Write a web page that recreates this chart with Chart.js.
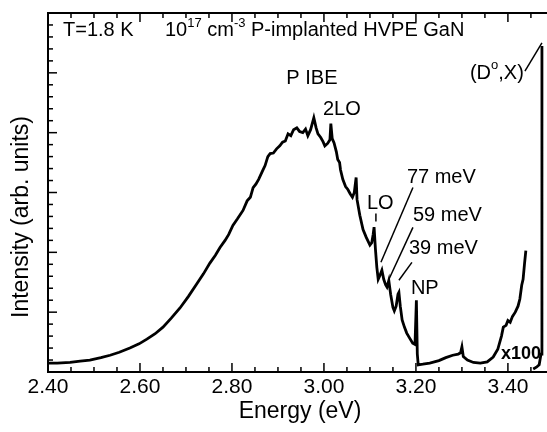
<!DOCTYPE html>
<html>
<head>
<meta charset="utf-8">
<script src="https://cdn.jsdelivr.net/npm/chart.js@4.4.1/dist/chart.umd.min.js"></script>
<style>
  html, body { margin: 0; padding: 0; background: #fff; }
  canvas { display: block; }
</style>
</head>
<body>
<canvas id="pl" width="547" height="432"></canvas>
<script>
// PL spectrum; the part above 3.20 eV is the x100 trace as plotted
const energy = [
  2.400, 2.420, 2.448, 2.470, 2.491, 2.515, 2.535, 2.555, 2.578, 2.598,
  2.615, 2.633, 2.650, 2.668, 2.687, 2.705, 2.724, 2.738, 2.752, 2.764,
  2.774, 2.785, 2.793, 2.802, 2.812, 2.824, 2.833, 2.840, 2.846, 2.852,
  2.858, 2.867, 2.872, 2.878, 2.883, 2.890, 2.897, 2.904, 2.910, 2.916,
  2.922, 2.928, 2.934, 2.941, 2.947, 2.954, 2.960, 2.965, 2.971, 2.978,
  2.983, 2.987, 2.993, 2.998, 3.002, 3.008, 3.013, 3.015, 3.018, 3.022,
  3.027, 3.030, 3.034, 3.036, 3.041, 3.047, 3.052, 3.057, 3.062, 3.066,
  3.070, 3.072, 3.078, 3.085, 3.092, 3.100, 3.104, 3.107, 3.109, 3.112,
  3.115, 3.118, 3.121, 3.126, 3.130, 3.134, 3.137, 3.141, 3.145, 3.150,
  3.153, 3.157, 3.161, 3.163, 3.166, 3.170, 3.175, 3.180, 3.186, 3.193,
  3.198, 3.201, 3.203, 3.205, 3.215, 3.230, 3.250, 3.265, 3.280, 3.292,
  3.297, 3.300, 3.303, 3.312, 3.325, 3.340, 3.355, 3.368, 3.378, 3.386,
  3.390, 3.396, 3.400, 3.405, 3.410, 3.416, 3.422, 3.426, 3.430, 3.433,
  3.436, 3.439, 3.445, 3.455, 3.462, 3.468, 3.472, 3.474
];
const intensity = [
  0.15, 0.15, 0.16, 0.18, 0.20, 0.24, 0.28, 0.33, 0.40, 0.47,
  0.55, 0.64, 0.75, 0.90, 1.07, 1.26, 1.48, 1.64, 1.82, 1.95,
  2.08, 2.20, 2.30, 2.45, 2.56, 2.70, 2.86, 2.92, 3.08, 3.14,
  3.22, 3.37, 3.45, 3.60, 3.65, 3.66, 3.73, 3.78, 3.84, 3.86,
  3.98, 3.95, 4.05, 4.08, 4.02, 4.00, 4.06, 3.95, 4.05, 4.25,
  4.08, 3.98, 3.92, 3.85, 3.78, 3.82, 3.88, 4.15, 3.90, 3.83,
  3.68, 3.55, 3.50, 3.38, 3.22, 3.10, 3.05, 2.98, 2.92, 3.00,
  3.25, 2.88, 2.62, 2.38, 2.25, 2.12, 2.16, 2.30, 2.42, 2.05,
  1.75, 1.55, 1.60, 1.70, 1.55, 1.46, 1.42, 1.53, 1.30, 1.08,
  1.02, 1.10, 1.30, 1.33, 1.10, 0.87, 0.75, 0.65, 0.57, 0.48,
  0.46, 1.20, 0.30, 0.12, 0.13, 0.15, 0.19, 0.24, 0.28, 0.30,
  0.32, 0.42, 0.26, 0.20, 0.16, 0.15, 0.17, 0.25, 0.38, 0.60,
  0.75, 0.78, 0.86, 0.83, 0.93, 1.00, 1.10, 1.22, 1.45, 1.55,
  1.80, 2.03, null, 0.05, 0.08, 0.12, 0.30, 5.45
];
const xTicks = [2.40, 2.60, 2.80, 3.00, 3.20, 3.40];
const peakNames = ['2LO', 'LO', '77 meV', '59 meV', '39 meV', 'NP'];

const FONT = "'Liberation Sans', Arial, sans-serif";

// text with optional superscript pieces
function richText(ctx, parts, x, y, size) {
  let cx = x;
  ctx.textBaseline = 'middle';
  ctx.textAlign = 'left';
  parts.forEach(p => {
    const s = p.sup ? Math.round(size * 0.65) : size;
    ctx.font = s + 'px ' + FONT;
    ctx.fillText(p.t, cx, p.sup ? y - size * 0.4 : y);
    cx += ctx.measureText(p.t).width;
  });
}

const frame = {
  id: 'frame',
  afterDraw(chart) {
    const {ctx, chartArea: a, scales: {x, y}} = chart;
    const X = v => x.getPixelForValue(v);
    const Y = v => y.getPixelForValue(v);
    const seg = (x1, y1, x2, y2) => { ctx.beginPath(); ctx.moveTo(x1, y1); ctx.lineTo(x2, y2); ctx.stroke(); };

    ctx.save();
    ctx.strokeStyle = '#000';
    ctx.fillStyle = '#000';

    // axes box (no right border in the cropped figure)
    ctx.lineWidth = 2;
    ctx.beginPath();
    ctx.moveTo(a.right, a.top);
    ctx.lineTo(a.left, a.top);
    ctx.lineTo(a.left, a.bottom);
    ctx.lineTo(a.right, a.bottom);
    ctx.stroke();

    // inward ticks
    ctx.lineWidth = 1.5;
    for (let k = 0; ; k++) {
      const v = 2.40 + k * 0.05;
      if (v > x.max) break;
      const len = k % 4 === 0 ? 9 : 5;
      seg(X(v), a.bottom, X(v), a.bottom - len);
      seg(X(v), a.top, X(v), a.top + len);
    }
    for (let k = 0; k <= 30; k++) {
      const len = k % 5 === 0 ? 9 : 5;
      seg(a.left, Y(k * 0.2), a.left + len, Y(k * 0.2));
    }

    // axis titles
    ctx.font = '23px ' + FONT;
    ctx.textAlign = 'center';
    ctx.textBaseline = 'middle';
    ctx.fillText('Energy (eV)', 300, 412);
    ctx.save();
    ctx.translate(22, 217);
    ctx.rotate(-Math.PI / 2);
    ctx.fillText('Intensity (arb. units)', 0, 0);
    ctx.restore();

    // header
    richText(ctx, [{t: 'T=1.8 K'}], X(2.4326), Y(5.70), 20);
    richText(ctx, [{t: '10'}, {t: '17', sup: true}, {t: ' cm'}, {t: '-3', sup: true},
                   {t: ' P-implanted HVPE GaN'}], X(2.6543), Y(5.70), 20);

    // peak labels
    ctx.font = '20px ' + FONT;
    ctx.textAlign = 'center';
    ctx.fillText('P IBE', X(2.9739), Y(4.90));
    richText(ctx, [{t: peakNames[0]}], X(2.9978), Y(4.383), 20);
    richText(ctx, [{t: peakNames[1]}], X(3.0935), Y(2.817), 20);
    richText(ctx, [{t: peakNames[2]}], X(3.1804), Y(3.25), 20);
    richText(ctx, [{t: peakNames[3]}], X(3.1935), Y(2.617), 20);
    richText(ctx, [{t: peakNames[4]}], X(3.1848), Y(2.067), 20);
    richText(ctx, [{t: peakNames[5]}], X(3.1891), Y(1.40), 20);
    richText(ctx, [{t: '(D'}, {t: 'o', sup: true}, {t: ',X)'}], X(3.3174), Y(4.983), 20);
    ctx.font = 'bold 18px ' + FONT;
    ctx.textAlign = 'left';
    ctx.fillText('x100', X(3.3848), Y(0.30));

    // leader lines
    ctx.lineWidth = 1.5;
    seg(X(3.1935), Y(3.083), X(3.1239), Y(1.833));
    seg(X(3.1935), Y(2.417), X(3.1413), Y(1.55));
    seg(X(3.1913), Y(1.833), X(3.163), Y(1.533));
    seg(X(3.113), Y(2.65), X(3.113), Y(2.517));
    seg(X(3.437), Y(5.03), X(3.474), Y(5.50));

    ctx.restore();
  }
};

new Chart(document.getElementById('pl'), {
  type: 'line',
  data: {
    datasets: [{
      data: energy.map((e, i) => ({x: e, y: intensity[i]})),
      borderColor: '#000',
      borderWidth: 2.8,
      pointRadius: 0,
      tension: 0,
      spanGaps: false
    }]
  },
  options: {
    responsive: false,
    animation: false,
    devicePixelRatio: 1,
    layout: { padding: { top: 13, right: 0, left: 0, bottom: 0 } },
    plugins: { legend: { display: false }, tooltip: { enabled: false } },
    scales: {
      x: {
        type: 'linear',
        min: 2.40,
        max: 3.485,
        grid: { display: false, drawTicks: false },
        border: { display: false },
        afterBuildTicks: s => { s.ticks = xTicks.map(v => ({value: v})); },
        afterFit: s => { s.height = 60; },
        ticks: {
          padding: 3,
          color: '#000',
          font: { family: FONT, size: 21 },
          maxRotation: 0,
          callback: v => v.toFixed(2)
        }
      },
      y: {
        min: 0,
        max: 6,
        grid: { display: false, drawTicks: false },
        border: { display: false },
        ticks: { display: false },
        afterFit: s => { s.width = 48; }
      }
    }
  },
  plugins: [frame]
});
</script>
</body>
</html>
